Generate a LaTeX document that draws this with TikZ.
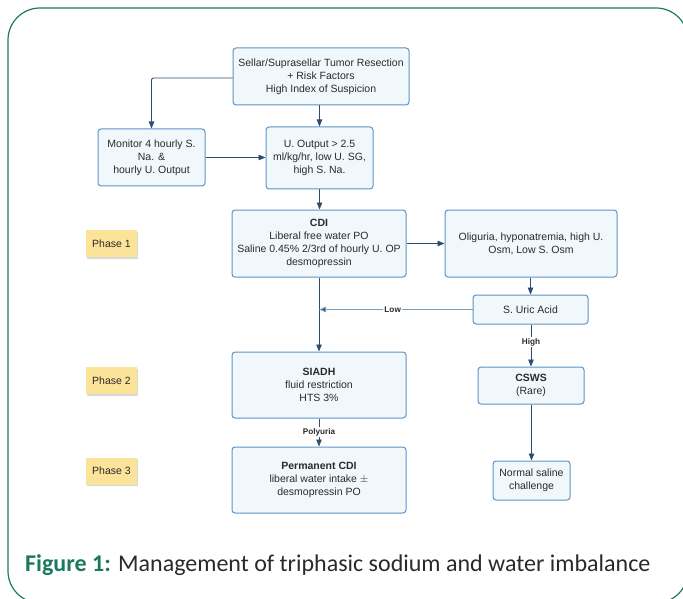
\documentclass[tikz,border=0pt]{standalone}
\usepackage{fontspec}
\setmainfont{Liberation Sans}
\newfontfamily\capfont{Carlito}
\usetikzlibrary{arrows.meta}
\definecolor{frame}{HTML}{1B7A5E}
\definecolor{boxblue}{HTML}{5E93C4}
\definecolor{boxfill}{HTML}{F1F8FC}
\definecolor{linec}{HTML}{2B4D70}
\definecolor{lowline}{HTML}{7C9DB8}
\definecolor{note}{HTML}{FBE39A}
\definecolor{txt}{HTML}{2A2A2A}
\begin{document}
\begin{tikzpicture}[x=1pt,y=-1pt,
  box/.style={draw=boxblue,fill=boxfill,rounded corners=3,line width=1pt,align=center,
    inner sep=0pt,text=txt,font=\fontsize{10.5}{12.8}\selectfont},
  notebox/.style={fill=note,minimum width=51,minimum height=27,inner sep=0pt,text=txt,
    font=\fontsize{10.5}{12.8}\selectfont},
  conn/.style={draw=linec,line width=0.85pt,-{Triangle[length=7pt,width=5.5pt]}},
  lbl/.style={font=\bfseries\fontsize{8.2}{9.5}\selectfont,text=txt,fill=white,inner sep=1pt}]
\useasboundingbox (0,0) rectangle (683,599);
\begin{scope}
\clip (0,0) rectangle (683,599);
\draw[frame,line width=1.2pt,rounded corners=32] (8,8) rectangle (688,603);
\end{scope}
% boxes
\node[box,minimum width=176,minimum height=57] (top) at (321,76.5)
  {Sellar/Suprasellar Tumor Resection\\+ Risk Factors\\High Index of Suspicion};
\node[box,minimum width=107,minimum height=57] (mon) at (151.5,157.5)
  {Monitor 4 hourly S.\\Na. \&\\hourly U. Output};
\node[box,minimum width=107,minimum height=62] (uout) at (319.5,158)
  {U. Output > 2.5\\ml/kg/hr, low U. SG,\\high S. Na.};
\node[box,minimum width=174,minimum height=67] (cdi) at (319,243.5)
  {\textbf{CDI}\\Liberal free water PO\\Saline 0.45\% 2/3rd of hourly U. OP\\desmopressin};
\node[box,minimum width=172,minimum height=67] (olig) at (531,243.5)
  {Oliguria, hyponatremia, high U.\\Osm, Low S. Osm};
\node[box,minimum width=115,minimum height=29] (uric) at (530.5,309.5)
  {S. Uric Acid};
\node[box,minimum width=174,minimum height=66] (siadh) at (319,385)
  {\textbf{SIADH}\\fluid restriction\\HTS 3\%};
\node[box,minimum width=106,minimum height=37] (csws) at (531,385.5)
  {\textbf{CSWS}\\(Rare)};
\node[box,minimum width=174,minimum height=66] (perm) at (319,480)
  {\textbf{Permanent CDI}\\liberal water intake $\pm$\\desmopressin PO};
\node[box,minimum width=77,minimum height=39] (ns) at (531.5,480.5)
  {Normal saline\\challenge};
% phase notes
\foreach \n/\y in {1/243.5,2/380.5,3/471}{
  \fill[black!15] (87,\y-12) rectangle (138,\y+15);
  \node[notebox] (ph\n) at (111.5,\y) {Phase \n};
}
% connectors
\coordinate (c1) at (151.5,78);
\draw[conn,rounded corners=2] (top.west |- c1) -| (mon.north);
\draw[conn] (top.south -| uout.north) -- (uout.north);
\draw[conn] (mon.east) -- (mon.east -| uout.west);
\draw[conn] (uout.south) -- (uout.south |- cdi.north);
\draw[conn] (cdi.east) -- (olig.west);
\draw[conn] (olig.south -| uric.north) -- (uric.north);
\draw[conn] (cdi.south) -- (siadh.north);
\coordinate (lowend) at (cdi.south |- uric.west);
\draw[draw=lowline,line width=1pt,-{Triangle[length=7pt,width=5.5pt,fill=linec]}] (uric.west) -- (lowend)
  node[lbl,pos=0.52] {Low};
\draw[conn] (uric.south -| csws.north) -- node[lbl,pos=0.42] {High} (csws.north);
\draw[conn] (siadh.south) -- node[lbl,pos=0.48] {Polyuria} (perm.north);
\draw[conn] (csws.south -| ns.north) -- (ns.north);
% caption
\node[anchor=base west,inner sep=0pt,font=\capfont\fontsize{24}{27}\selectfont,text=txt] (cap) at (25,571)
  {\textcolor{frame}{\bfseries Figure 1:} Management of triphasic sodium and water imbalance};
\end{tikzpicture}
\end{document}
